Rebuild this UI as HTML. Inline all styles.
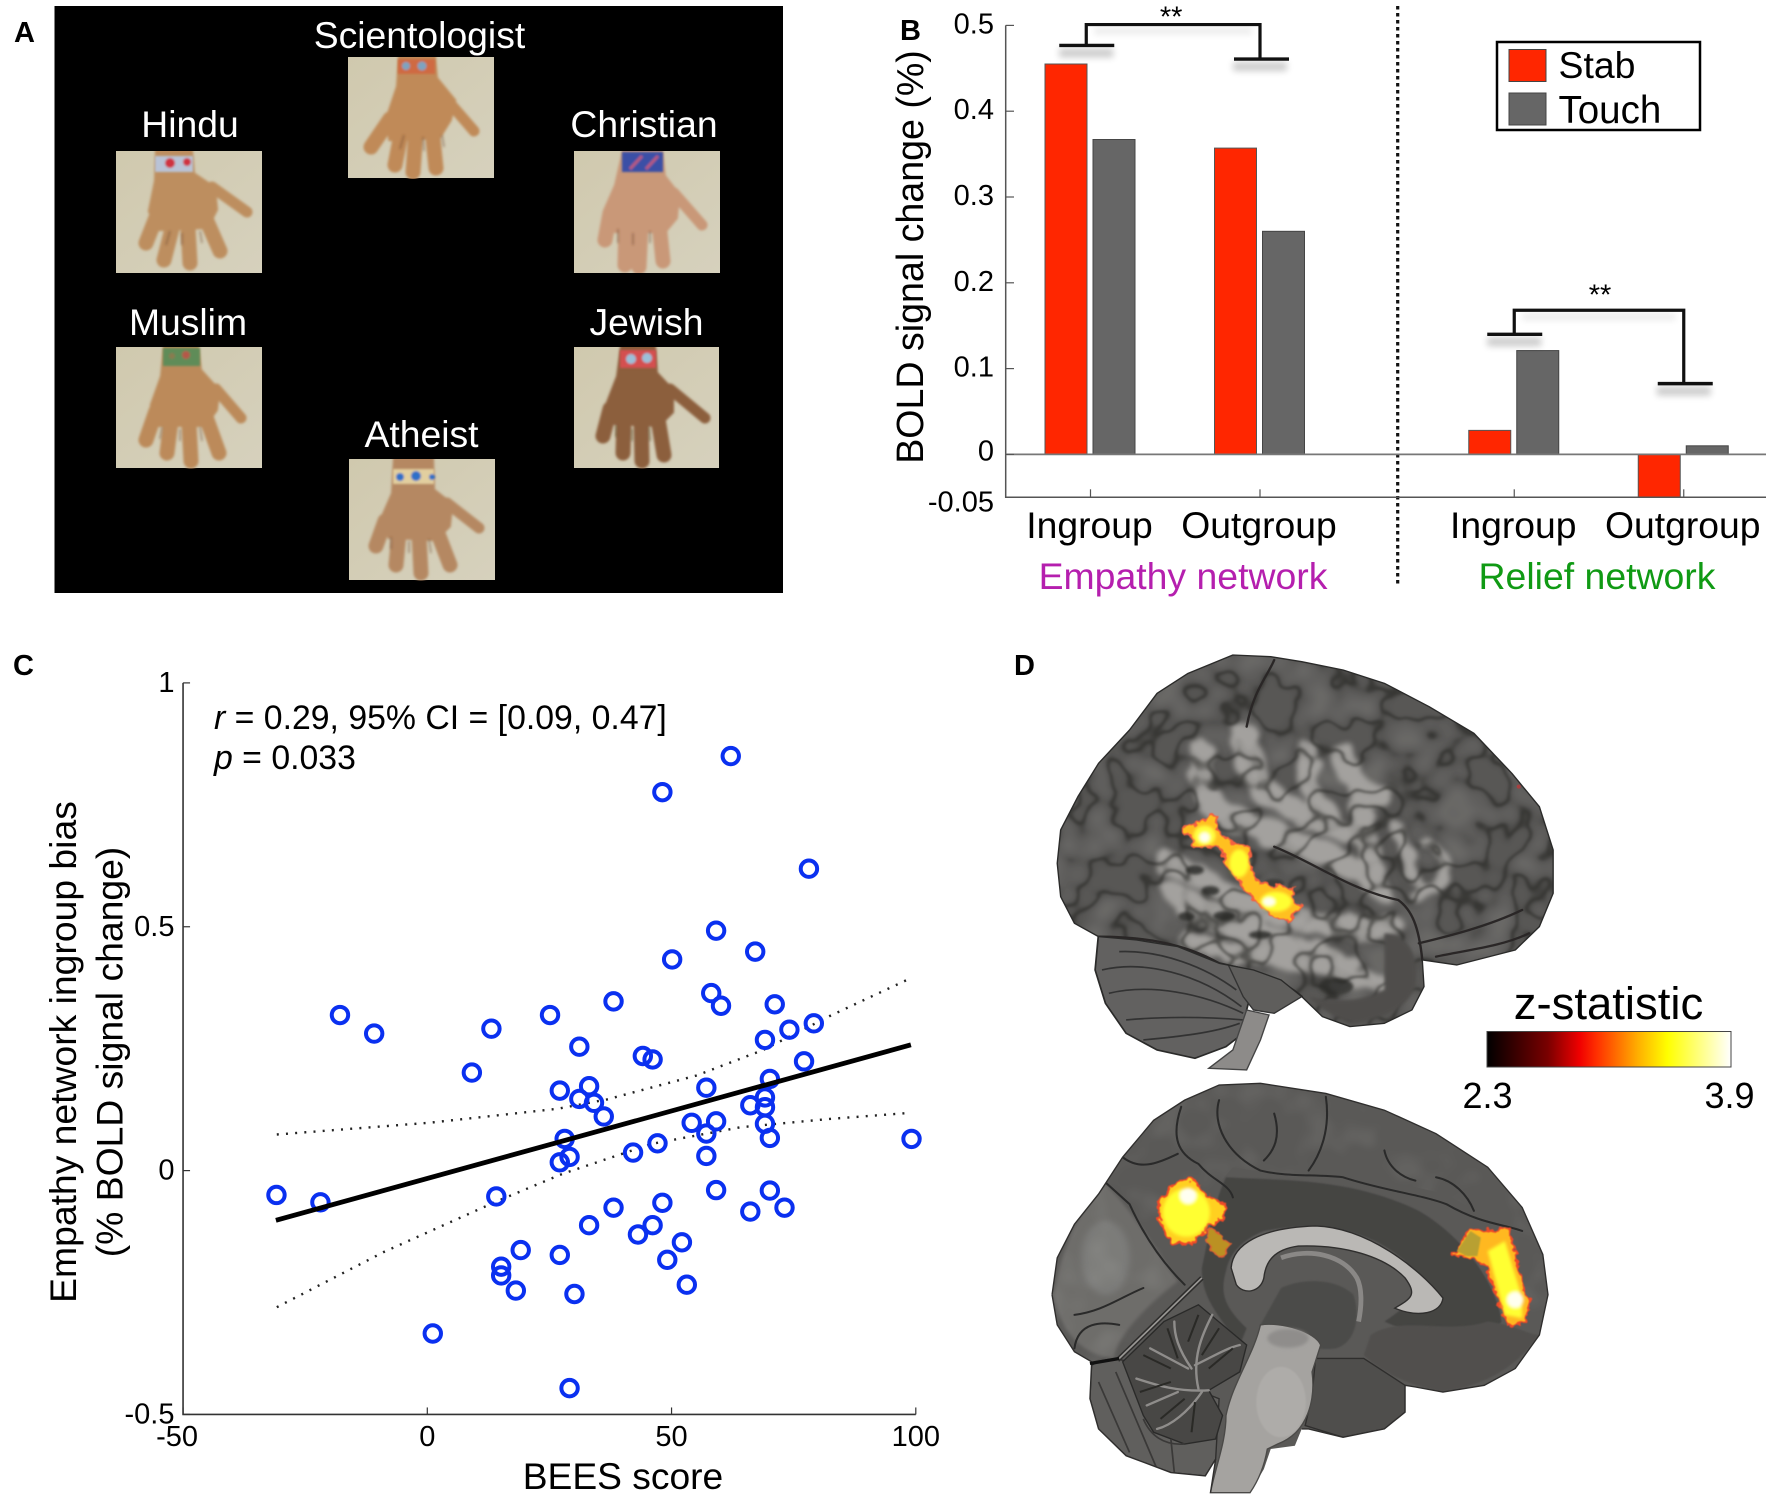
<!DOCTYPE html>
<html lang="en">
<head>
<meta charset="utf-8">
<title>Ingroup bias figure</title>
<style>
html,body{margin:0;padding:0;background:#fff;}
svg{display:block;font-family:"Liberation Sans",Arial,sans-serif;}
</style>
</head>
<body>
<svg id="fig" xmlns="http://www.w3.org/2000/svg" width="1772" height="1496" viewBox="0 0 1772 1496">
<defs>
  <filter id="b1" x="-20%" y="-20%" width="140%" height="140%"><feGaussianBlur stdDeviation="1"/></filter>
  <filter id="bh" x="-20%" y="-20%" width="140%" height="140%"><feGaussianBlur stdDeviation="1.4"/></filter>
  <filter id="b2" x="-20%" y="-20%" width="140%" height="140%"><feGaussianBlur stdDeviation="2.5"/></filter>
  <filter id="b3" x="-20%" y="-20%" width="140%" height="140%"><feGaussianBlur stdDeviation="5"/></filter>
  <filter id="b4" x="-30%" y="-30%" width="160%" height="160%"><feGaussianBlur stdDeviation="9"/></filter>
  <filter id="shadow" x="-30%" y="-200%" width="160%" height="500%"><feGaussianBlur stdDeviation="3.5"/></filter>
  <filter id="wob" x="-10%" y="-10%" width="120%" height="120%" color-interpolation-filters="sRGB">
    <feTurbulence type="fractalNoise" baseFrequency=".014" numOctaves="2" seed="3" result="n"/>
    <feDisplacementMap in="SourceGraphic" in2="n" scale="55" xChannelSelector="R" yChannelSelector="G"/>
    <feGaussianBlur stdDeviation="8"/>
  </filter>
  <filter id="wobA" x="-20%" y="-20%" width="140%" height="140%" color-interpolation-filters="sRGB">
    <feTurbulence type="fractalNoise" baseFrequency=".045" numOctaves="2" seed="5" result="n"/>
    <feDisplacementMap in="SourceGraphic" in2="n" scale="30" xChannelSelector="R" yChannelSelector="G"/>
    <feGaussianBlur stdDeviation="1.5"/>
  </filter>
  <filter id="sulci" x="0" y="0" width="1" height="1" color-interpolation-filters="sRGB">
    <feTurbulence type="fractalNoise" baseFrequency=".0095" numOctaves="2" seed="11"/>
    <feColorMatrix type="matrix" values="0 0 0 0 .14  0 0 0 0 .14  0 0 0 0 .13  1 0 0 0 0"/>
    <feComponentTransfer><feFuncA type="table" tableValues="0 0 0 0 0 0 0 0 .1 .65 .1 0 0 0 0 0 0 0 0 0 0"/></feComponentTransfer>
    <feGaussianBlur stdDeviation="3.5"/>
  </filter>
  <filter id="gyriLight" x="0" y="0" width="1" height="1" color-interpolation-filters="sRGB">
    <feTurbulence type="fractalNoise" baseFrequency=".0095" numOctaves="2" seed="11"/>
    <feColorMatrix type="matrix" values="0 0 0 0 1  0 0 0 0 1  0 0 0 0 .98  1 0 0 0 0"/>
    <feComponentTransfer><feFuncA type="table" tableValues="0 0 0 0 .01 .06 .11 .1 .06"/></feComponentTransfer>
    <feGaussianBlur stdDeviation="8"/>
  </filter>
  <linearGradient id="bgHand" x1="0" y1="0" x2="1" y2="1"><stop offset="0" stop-color="#d0c9ae"/><stop offset="1" stop-color="#d6d1bd"/></linearGradient>
  <linearGradient id="cbar" x1="0" y1="0" x2="1" y2="0">
    <stop offset="0" stop-color="#000"/><stop offset=".25" stop-color="#7a0000"/><stop offset=".38" stop-color="#f00000"/><stop offset=".45" stop-color="#ff3000"/><stop offset=".62" stop-color="#ffb000"/><stop offset=".74" stop-color="#ffff00"/><stop offset="1" stop-color="#ffffff"/>
  </linearGradient>
  <clipPath id="handClip"><rect x="0" y="0" width="146" height="122"/></clipPath>
  <clipPath id="brainClip1"><path d="M50,640 60,540 110,440 170,340 260,240 340,130 430,70 560,15 670,20 760,35 880,60 1000,100 1130,170 1260,250 1370,370 1450,470 1490,600 1490,730 1450,830 1380,900 1210,945 1110,930 1115,1010 1080,1080 1000,1120 900,1130 820,1100 760,1040 700,990 620,960 520,940 400,890 280,870 170,860 100,820 60,740Z"/></clipPath>
  <clipPath id="brainClip2"><path d="M35,640 50,530 100,430 170,340 240,230 330,120 420,60 520,15 640,10 830,40 1000,90 1150,160 1300,260 1400,380 1460,520 1475,640 1450,760 1380,860 1290,910 1170,930 1090,915 1060,910 1060,990 1000,1040 880,1065 780,1040 760,1040 740,1090 670,1100 650,1160 610,1230 495,1230 510,1130 480,1180 380,1170 250,1120 170,1040 145,950 150,840 100,810 50,730Z"/></clipPath>
  <clipPath id="cortexRing"><path d="M35,640 50,530 100,430 170,340 240,230 330,120 420,60 520,15 640,10 830,40 1000,90 1150,160 1300,260 1400,380 1460,520 1475,640 1450,760 1400,720 1350,440 1180,340 960,290 740,290 560,260 500,330 400,560 250,800 150,840 100,810 50,730Z"/></clipPath>
</defs>

<!-- PANEL A -->
<g>
  <text x="14" y="42" font-size="29" font-weight="bold">A</text>
  <rect x="54.5" y="6" width="728.5" height="587" fill="#000"/>
  <g fill="#fff" font-size="37.3" text-anchor="middle">
    <text x="419.5" y="48">Scientologist</text>
    <text x="190" y="137">Hindu</text>
    <text x="644" y="137">Christian</text>
    <text x="188" y="335">Muslim</text>
    <text x="646.5" y="335">Jewish</text>
    <text x="421.5" y="447">Atheist</text>
  </g>

  <g transform="translate(348,57)" clip-path="url(#handClip)">
    <rect width="146" height="121" fill="url(#bgHand)"/>
    <g filter="url(#bh)" stroke="#c08a58" fill="none" stroke-linecap="round" stroke-width="15">
      <path d="M42 62L23 90"/><path d="M54 72L47 108"/><path d="M68 74L65 115"/><path d="M84 72L88 111"/><path d="M100 44L126 74" stroke-width="11"/>
      <path fill="#c08a58" stroke-width="8" d="M54 0L84 0L86 22L104 44L100 62L90 78L44 80L42 60L52 30Z"/>
    </g>
    <g filter="url(#bh)" fill="none" stroke="#6a3e20" stroke-opacity=".4" stroke-width="2"><path d="M52 92L56 78"/><path d="M76 94L75 80"/><path d="M96 90L94 78"/></g>
    <g filter="url(#b1)"><rect x="50" y="2" width="37" height="15" fill="#cf6a42"/><circle cx="58" cy="9" r="4" fill="#7ea3c0"/><circle cx="74" cy="9" r="4.5" fill="#7ea3c0"/></g>
  </g>

  <g transform="translate(116,151)" clip-path="url(#handClip)">
    <rect width="146" height="122" fill="url(#bgHand)"/>
    <g filter="url(#bh)" stroke="#bd8e5f" fill="none" stroke-linecap="round" stroke-width="15">
      <path d="M41 64L30 92"/><path d="M57 74L48 109"/><path d="M72 76L74 112"/><path d="M90 68L104 100"/><path d="M96 36L131 61" stroke-width="11"/>
      <path fill="#bd8e5f" stroke-width="8" d="M43 0L73 0L75 24L96 38L98 58L90 74L44 76L36 60L42 30Z"/>
    </g>
    <g filter="url(#bh)" fill="none" stroke="#6a3e20" stroke-opacity=".4" stroke-width="2"><path d="M50 94L54 80"/><path d="M66 94L66 82"/><path d="M86 92L84 80"/></g>
    <g filter="url(#b1)"><rect x="39" y="5" width="38" height="16" fill="#b9c3d6"/><circle cx="54" cy="12" r="5" fill="#cf3040"/><circle cx="71" cy="11" r="4" fill="#cf3040"/></g>
  </g>

  <g transform="translate(574,151)" clip-path="url(#handClip)">
    <rect width="147" height="122" fill="url(#bgHand)"/>
    <g filter="url(#bh)" stroke="#c99878" fill="none" stroke-linecap="round" stroke-width="15">
      <path d="M36 62L31 89"/><path d="M52 72L51 114"/><path d="M67 74L65 116"/><path d="M85 72L89 110"/><path d="M100 42L128 74" stroke-width="11"/>
      <path fill="#c99878" stroke-width="8" d="M52 0L85 0L88 26L102 44L100 66L90 78L42 78L34 58L44 35Z"/>
    </g>
    <g filter="url(#bh)" fill="none" stroke="#6a3e20" stroke-opacity=".4" stroke-width="2"><path d="M44 92L44 78"/><path d="M59 94L59 82"/><path d="M76 92L76 80"/></g>
    <g filter="url(#b1)"><rect x="48" y="1" width="41" height="20" fill="#3a50a6"/><path d="M56 18L68 5M72 18L84 5" stroke="#b85a80" stroke-width="3"/></g>
  </g>

  <g transform="translate(116,347)" clip-path="url(#handClip)">
    <rect width="146" height="121" fill="url(#bgHand)"/>
    <g filter="url(#bh)" stroke="#bc8a5a" fill="none" stroke-linecap="round" stroke-width="15">
      <path d="M40 64L30 93"/><path d="M55 74L51 106"/><path d="M73 76L75 114"/><path d="M90 70L103 106"/><path d="M100 42L125 71" stroke-width="11"/>
      <path fill="#bc8a5a" stroke-width="8" d="M51 0L79 0L82 24L100 44L98 62L88 76L44 76L38 58L48 30Z"/>
    </g>
    <g filter="url(#bh)" fill="none" stroke="#6a3e20" stroke-opacity=".4" stroke-width="2"><path d="M44 92L46 80"/><path d="M64 94L64 82"/><path d="M86 94L84 80"/></g>
    <g filter="url(#b1)"><rect x="47" y="1" width="37" height="18" fill="#5f8c58"/><circle cx="70" cy="8" r="4" fill="#b5584a"/><circle cx="56" cy="9" r="3" fill="#8a7a50"/></g>
  </g>

  <g transform="translate(574,347)" clip-path="url(#handClip)">
    <rect width="145" height="121" fill="url(#bgHand)"/>
    <g filter="url(#bh)" stroke="#8c5f3c" fill="none" stroke-linecap="round" stroke-width="15">
      <path d="M36 62L29 89"/><path d="M50 72L49 106"/><path d="M67 74L68 114"/><path d="M84 72L90 108"/><path d="M96 42L131 71" stroke-width="11"/>
      <path fill="#8c5f3c" stroke-width="8" d="M50 0L78 0L80 27L96 44L96 64L84 76L40 74L36 56L46 30Z"/>
    </g>
    <g filter="url(#bh)" fill="none" stroke="#3a2010" stroke-opacity=".4" stroke-width="2"><path d="M42 90L42 78"/><path d="M58 94L58 82"/><path d="M76 94L75 80"/></g>
    <g filter="url(#b1)"><rect x="46" y="3" width="36" height="18" fill="#d44f50"/><circle cx="57" cy="12" r="5" fill="#9cc0d8"/><circle cx="73" cy="11" r="5" fill="#9cc0d8"/></g>
  </g>

  <g transform="translate(349,459)" clip-path="url(#handClip)">
    <rect width="146" height="121" fill="url(#bgHand)"/>
    <g filter="url(#bh)" stroke="#b58862" fill="none" stroke-linecap="round" stroke-width="15">
      <path d="M36 62L27 87"/><path d="M50 74L47 106"/><path d="M70 76L72 114"/><path d="M88 72L101 106"/><path d="M98 44L130 69" stroke-width="11"/>
      <path fill="#b58862" stroke-width="8" d="M48 0L81 0L82 32L100 46L98 66L86 78L42 76L36 58L46 35Z"/>
    </g>
    <g filter="url(#bh)" fill="none" stroke="#6a3e20" stroke-opacity=".4" stroke-width="2"><path d="M42 90L42 78"/><path d="M60 94L60 82"/><path d="M82 94L80 80"/></g>
    <g filter="url(#b1)"><rect x="44" y="10" width="41" height="15" fill="#e2cf9f"/><circle cx="51" cy="18" r="4" fill="#2f6fc8"/><circle cx="67" cy="17" r="5" fill="#2f6fc8"/><circle cx="83" cy="18" r="3" fill="#2f6fc8"/></g>
  </g>
</g>

<!-- PANEL B (drawn by script) -->
<g id="panelB">
  <text x="900" y="40" font-size="29" font-weight="bold">B</text>
  <text transform="translate(923,257) rotate(-90)" text-anchor="middle" font-size="37.6">BOLD signal change (%)</text>
  <text x="1183" y="589" text-anchor="middle" font-size="37.4" fill="#b51fae">Empathy network</text>
  <text x="1597" y="589" text-anchor="middle" font-size="37.4" fill="#109a14">Relief network</text>
  <line x1="1397.7" y1="6" x2="1397.7" y2="587" stroke="#111" stroke-width="3.2" stroke-dasharray="3.5 3.5"/>
  <g>
    <rect x="1497" y="42" width="203" height="88" fill="#fff" stroke="#000" stroke-width="2.5"/>
    <rect x="1509" y="49.5" width="37" height="32" fill="#ff2600" stroke="#444" stroke-width="1"/>
    <rect x="1509" y="93" width="37" height="32" fill="#666" stroke="#444" stroke-width="1"/>
    <text x="1558.5" y="78" font-size="37.4">Stab</text>
    <text x="1558.5" y="123" font-size="38.5">Touch</text>
  </g>
</g>

<!-- PANEL C (drawn by script) -->
<g id="panelC">
  <text x="13" y="675" font-size="29" font-weight="bold">C</text>
  <text transform="translate(76,1052) rotate(-90)" text-anchor="middle" font-size="37.3">Empathy network ingroup bias</text>
  <text transform="translate(122.5,1052) rotate(-90)" text-anchor="middle" font-size="37.3">(% BOLD signal change)</text>
  <text x="623" y="1489" text-anchor="middle" font-size="37.2">BEES score</text>
  <text x="214" y="729" font-size="33.8"><tspan font-style="italic">r</tspan> = 0.29, 95% CI = [0.09, 0.47]</text>
  <text x="214" y="769" font-size="33.8"><tspan font-style="italic">p</tspan> = 0.033</text>
</g>

<!-- PANEL D -->
<g>
  <text x="1014" y="675" font-size="29" font-weight="bold">D</text>

  <g transform="translate(1040,650) scale(.3444,.3333)">
    <path d="M170,850 280,850 400,870 520,920 640,950 620,1000 600,1080 590,1150 540,1190 450,1225 340,1200 250,1150 190,1060 160,960Z" fill="#626160" stroke="#2a2a29" stroke-width="5"/>
    <g fill="none" stroke="#333" stroke-width="5" filter="url(#b1)">
      <path d="M180,960C300,930 460,970 585,1070"/><path d="M200,1030C320,1000 470,1030 590,1090"/><path d="M250,1110C350,1100 480,1100 590,1110"/><path d="M230,905C350,900 480,950 570,1020"/><path d="M300,1170C400,1160 500,1150 580,1120"/>
    </g>
    <path d="M540,930 660,950 760,1040 680,1090 620,1080 590,1040Z" fill="#5f5e5c" stroke="#333" stroke-width="4"/>
    <path d="M600,1080 665,1095 640,1170 600,1260 490,1255 560,1200Z" fill="#8d8b89" stroke="#444" stroke-width="4"/>
    <g clip-path="url(#brainClip1)">
      <rect x="0" y="0" width="1568" height="1260" fill="#585755"/>
      <rect x="0" y="0" width="1568" height="1260" filter="url(#gyriLight)"/>
      <g fill="none" stroke="#a3a19e" stroke-linecap="round" filter="url(#wob)">
        <path d="M470,300C450,370 490,440 510,480" stroke-width="65"/>
        <path d="M590,260C590,350 640,400 670,440" stroke-width="85"/>
        <path d="M780,300C760,400 800,470 860,520" stroke-width="65"/>
        <path d="M880,320C900,400 950,440 975,440" stroke-width="70"/>
        <path d="M500,480C600,510 660,560 800,600C880,640 950,660 990,720" stroke-width="70"/>
        <path d="M660,430C720,480 800,520 900,540" stroke-width="70"/>
        <path d="M930,460C950,560 960,650 990,720" stroke-width="60"/>
        <path d="M1040,520C1060,640 1090,720 1150,720" stroke-width="35"/>
        <path d="M1110,580C1200,610 1210,680 1100,750" stroke-width="35"/>
        <path d="M370,640C430,650 500,720 620,760C760,830 880,830 1010,830" stroke-width="70"/>
        <path d="M430,880C560,900 700,930 800,950C880,980 950,1010 1000,1000" stroke-width="60"/>
        <path d="M420,780C520,820 700,860 900,950" stroke-width="70"/>
        <path d="M380,720C440,760 520,790 620,830" stroke-width="60"/>
      </g>
      <g fill="#3d3c3b" filter="url(#b3)">
        <ellipse cx="450" cy="660" rx="26" ry="14"/><ellipse cx="495" cy="722" rx="26" ry="14"/><ellipse cx="425" cy="800" rx="24" ry="14"/><ellipse cx="535" cy="798" rx="32" ry="14"/><ellipse cx="640" cy="855" rx="34" ry="12"/><ellipse cx="680" cy="700" rx="30" ry="14"/><ellipse cx="860" cy="1010" rx="50" ry="26"/>
      </g>
      <rect x="0" y="0" width="1568" height="1260" filter="url(#sulci)"/>
      <g fill="none" stroke="#292827" stroke-width="7" stroke-linecap="round" filter="url(#b1)">
        <path d="M680,590C800,640 900,720 1040,750C1080,780 1100,830 1110,930"/>
        <path d="M600,230C620,120 660,80 680,30"/>
        <path d="M170,860C300,860 420,880 520,940C600,960 680,970 760,1040"/>
        <path d="M1100,880C1180,860 1300,830 1400,780"/><path d="M1150,920C1240,900 1340,890 1420,850"/>
      </g>
      <path d="M1000,850C1080,860 1100,920 1090,1010C1060,1080 1000,1100 920,1120C860,1110 820,1080 780,1040C860,1060 950,1050 1000,1020Z" fill="#4f4e4c" filter="url(#b3)"/>
    </g>
    <path d="M50,640 60,540 110,440 170,340 260,240 340,130 430,70 560,15 670,20 760,35 880,60 1000,100 1130,170 1260,250 1370,370 1450,470 1490,600 1490,730 1450,830 1380,900 1210,945 1110,930 1115,1010 1080,1080 1000,1120 900,1130 820,1100 760,1040 700,990 620,960 520,940 400,890 280,870 170,860 100,820 60,740Z" fill="none" stroke="#2a2a29" stroke-width="4" stroke-linejoin="round"/>
    <path d="M415,530 450,525 490,495 510,500 520,550 545,575 610,595 610,640 630,700 735,715 740,760 765,768 720,810 690,810 640,770 590,710 540,640 525,590 450,595 440,560 415,550Z" fill="#ffc020" stroke="#f56040" stroke-width="6" stroke-linejoin="round" filter="url(#wobA)"/>
    <g filter="url(#b3)">
      <ellipse cx="478" cy="557" rx="32" ry="30" fill="#ffff40"/><ellipse cx="578" cy="640" rx="28" ry="42" fill="#ffff30"/><ellipse cx="685" cy="755" rx="46" ry="30" fill="#ffff30"/>
      <ellipse cx="478" cy="562" rx="15" ry="15" fill="#fffff0"/><ellipse cx="665" cy="755" rx="18" ry="13" fill="#fffff0"/>
    </g>
    <circle cx="1390" cy="410" r="6" fill="#a84040"/>
  </g>

  <g transform="translate(1040,1080) scale(.3444,.3355)">
    <g clip-path="url(#brainClip2)">
      <rect width="1568" height="1240" fill="#5a5957"/>
      <path d="M40,640C60,500 120,380 190,310C260,380 320,480 400,600C300,680 220,770 215,830C130,820 60,760 40,640Z" fill="#6e6d6b" filter="url(#b3)"/>
      <ellipse cx="190" cy="530" rx="70" ry="110" fill="#7c7b79" filter="url(#b4)"/>
      <g clip-path="url(#cortexRing)"><rect width="1568" height="1240" filter="url(#gyriLight)" opacity=".6"/></g>
      <path d="M540,290C700,300 900,290 1100,390C1250,480 1330,630 1340,720C1300,790 1150,790 1000,720C1100,650 1120,620 1060,540C950,440 800,420 650,450C580,480 550,520 540,570C520,640 540,680 600,740L580,790C500,680 470,640 470,560C490,470 500,380 540,290Z" fill="#454442" filter="url(#b2)"/>
      <path d="M700,620C760,590 860,590 910,640C930,700 920,780 860,800C800,810 690,780 640,730Z" fill="#4c4b49" filter="url(#b2)"/>
      <path d="M960,760C1050,700 1180,760 1300,720C1380,730 1420,760 1450,760C1380,860 1290,910 1170,930C1090,915 1000,880 940,820Z" fill="#514f4d" filter="url(#b2)"/>
      <path d="M800,830 940,830 1060,910 1060,990 1000,1040 880,1065 770,1030 790,940Z" fill="#4f4e4c" stroke="#2f2e2d" stroke-width="4"/>
      <path d="M150,850C200,820 250,830 300,860L520,950 510,1130 480,1180 380,1170 250,1120 170,1040 145,950Z" fill="#605f5d" stroke="#2f2e2d" stroke-width="4"/>
      <path d="M240,840 360,720 460,670 600,790 580,870 490,925 530,1000 510,1070 420,1085 330,1050 300,1000 270,920Z" fill="#484745" stroke="#2a2a29" stroke-width="4"/>
      <g fill="none" stroke="#8f8d8b" stroke-width="7" stroke-linecap="round" filter="url(#b1)">
        <path d="M490,925C400,930 340,910 280,890"/><path d="M460,920C440,830 470,760 500,700"/><path d="M440,860C400,800 390,760 390,720"/><path d="M450,850C510,820 540,800 580,790"/><path d="M470,930C430,990 380,1030 340,1040"/><path d="M430,860L320,800"/><path d="M400,930L310,970"/>
      </g>
      <g fill="none" stroke="#2a2928" stroke-width="6" filter="url(#b1)">
        <path d="M460,700L430,780M520,740L470,820M370,740L400,830M560,800L490,860M300,820L380,860M290,930L380,900M350,1010L420,950M440,1050L450,960"/>
      </g>
      <g fill="none" stroke="#3a3938" stroke-width="5">
        <path d="M170,900L260,1110"/><path d="M220,870L340,1160"/><path d="M380,1070L390,1170"/><path d="M300,1010C320,1060 360,1090 420,1085"/>
      </g>
      <g fill="none" stroke="#2a2a29" stroke-width="6" stroke-linecap="round" filter="url(#b1)">
        <path d="M190,305L260,370C300,460 350,540 420,610"/>
        <path d="M520,60C500,130 540,220 640,270C720,290 800,280 880,290C1000,330 1100,340 1180,370C1280,430 1350,430 1400,450"/>
        <path d="M830,50C840,120 830,200 780,270"/><path d="M410,80C380,170 400,220 460,250C500,300 550,310 560,350"/>
        <path d="M240,230C290,270 340,250 400,220"/><path d="M100,700C180,690 230,650 300,620"/><path d="M100,800C110,720 180,720 230,730"/>
        <path d="M1000,210C1010,260 1050,290 1090,300"/><path d="M1150,290C1200,300 1240,340 1260,390"/><path d="M680,100C700,170 680,210 650,240"/>
      </g>
      <path d="M225,835L470,590" stroke="#2d2c2b" stroke-width="14" fill="none"/>
      <path d="M225,835L470,590" stroke="#9a9895" stroke-width="5" fill="none"/>
    </g>
    <path d="M555,560C560,490 640,440 800,435C950,440 1100,560 1170,650C1165,695 1100,710 1030,680C1080,650 1095,640 1060,590C1000,525 880,490 750,495C680,505 655,540 650,590C640,635 590,640 570,610Z" fill="#bab8b5" stroke="#2f2e2d" stroke-width="4"/>
    <path d="M700,530C780,500 880,520 920,590C935,620 935,670 925,720" fill="none" stroke="#8a8886" stroke-width="14" filter="url(#b1)"/>
    <path d="M640,730C700,720 800,750 815,790L790,870C800,950 780,1050 690,1085L660,1100C650,1160 630,1200 610,1230L495,1230C510,1150 540,1080 540,1000C560,900 620,820 640,730Z" fill="#a5a3a0" stroke="#4a4947" stroke-width="4"/>
    <ellipse cx="700" cy="960" rx="72" ry="105" fill="#aeaca9" filter="url(#b2)"/>
    <ellipse cx="720" cy="770" rx="60" ry="28" fill="#8f8d8b" filter="url(#b3)"/>
    <path d="M35,640 50,530 100,430 170,340 240,230 330,120 420,60 520,15 640,10 830,40 1000,90 1150,160 1300,260 1400,380 1460,520 1475,640 1450,760 1380,860 1290,910 1170,930 1090,915 1060,910 1060,990 1000,1040 880,1065 780,1040 760,1040" fill="none" stroke="#2f2e2d" stroke-width="4"/>
    <path d="M495,1230 510,1130 480,1180 380,1170 250,1120 170,1040 145,950 150,840 100,810 50,730 35,640" fill="none" stroke="#2f2e2d" stroke-width="4"/>
    <path d="M145,845 230,830" stroke="#111" stroke-width="10"/>
    <!-- activations -->
    <path d="M495,440 555,490 530,525 500,515 480,450Z" fill="#c89a20" stroke="#f06030" stroke-width="5" filter="url(#wobA)" opacity=".9"/>
    <path d="M340,360 400,300 450,295 480,340 540,370 530,420 490,430 440,490 380,485 350,420Z" fill="#ffd020" stroke="#f04a28" stroke-width="7" stroke-linejoin="round" filter="url(#wobA)"/>
    <g filter="url(#b3)"><ellipse cx="425" cy="395" rx="68" ry="72" fill="#ffff30"/><circle cx="430" cy="345" r="24" fill="#fffff0"/></g>
    <path d="M1200,520 1250,445 1300,450 1365,440 1372,490 1420,670 1412,725 1360,732 1330,660 1290,545 1240,530Z" fill="#ffb820" stroke="#f04a28" stroke-width="6" stroke-linejoin="round" filter="url(#wobA)"/>
    <path d="M1210,510 1250,450 1280,470 1270,525 1240,525Z" fill="#b8a030" filter="url(#b2)"/>
    <g filter="url(#b3)"><path d="M1300,510 1350,480 1400,650 1400,710 1350,700Z" fill="#ffff30"/><circle cx="1380" cy="655" r="24" fill="#fffff0"/></g>
  </g>

  <g>
    <text x="1608.5" y="1019" text-anchor="middle" font-size="45.5">z-statistic</text>
    <rect x="1487" y="1031.5" width="244" height="35.5" fill="url(#cbar)" stroke="#444" stroke-width="1"/>
    <text x="1487.5" y="1108" text-anchor="middle" font-size="36">2.3</text>
    <text x="1729.5" y="1108" text-anchor="middle" font-size="36">3.9</text>
  </g>
</g>

<script>
// ---------- Panel B data ----------
const categoryLabels = ['Ingroup','Outgroup','Ingroup','Outgroup'];
const categoryPositions = [1,2,3.5,4.5];
const stabValues = [0.455,0.357,0.028,-0.05];
const touchValues = [0.367,0.26,0.121,0.01];
const bTickValues = [0.5,0.4,0.3,0.2,0.1,0,-0.05];
const bTickLabels = ['0.5','0.4','0.3','0.2','0.1','0','-0.05'];
const bracketCategoryA = [0.975,3.5];
const bracketCategoryB = [2,4.5];
const bracketTops = [0.501,0.168];
const bracketCapsA = [0.4766,0.14];
const bracketCapsB = [0.4608,0.0825];
const bracketStarCategories = [1.476,4.006];
const bracketStarLevels = [0.4987,0.175];

// ---------- Panel C data ----------
const beesScores = [-31,-22,-18,-11,1,9,13,14,15,15,18,19,25,27,27,27,28,29,29,30,31,31,33,33,34,36,38,38,42,43,44,46,46,47,48,48,49,50,52,53,54,57,57,57,58,59,59,59,60,62,66,66,67,69,69,69,69,70,70,70,71,73,74,77,78,79,99];
const ingroupBias = [-0.05,-0.065,0.319,0.281,-0.334,0.201,0.291,-0.053,-0.197,-0.215,-0.246,-0.163,0.319,0.164,-0.173,0.017,0.065,0.028,-0.446,-0.253,0.254,0.147,0.173,-0.112,0.139,0.111,0.347,-0.076,0.037,-0.131,0.235,0.228,-0.112,0.056,0.776,-0.066,-0.183,0.433,-0.147,-0.234,0.098,0.17,0.076,0.03,0.364,0.492,0.101,-0.04,0.338,0.85,0.134,-0.084,0.449,0.268,0.15,0.13,0.096,0.188,0.067,-0.041,0.341,-0.076,0.289,0.224,0.619,0.302,0.065];
const fitXs = [-31,99];
const fitYs = [-0.102,0.258];
const upperCiXs = [-30.8,0.3,26.8,36.8,55.1,68.7,82.4,98.2];
const upperCiYs = [0.074,0.098,0.127,0.146,0.195,0.247,0.317,0.391];
const lowerCiXs = [-30.8,-8.9,14,27.7,46,64.2,82.4,98.2];
const lowerCiYs = [-0.28,-0.167,-0.064,-0.0065,0.055,0.089,0.106,0.118];
const cXTicks = [-50,0,50,100];
const cXTickLabels = ['-50','0','50','100'];
const cYTicks = [1,0.5,0,-0.5];
const cYTickLabels = ['1','0.5','0','-0.5'];

const NS = 'http://www.w3.org/2000/svg';
function mk(parent, tag, attrs, text){
  const n = document.createElementNS(NS, tag);
  for (const k in attrs) n.setAttribute(k, attrs[k]);
  if (text !== undefined) n.textContent = text;
  parent.appendChild(n);
  return n;
}

// ----- axis functions panel B -----
const bx = c => 1090.5 + (c - 1) * 169.5;
const by = v => 454.4 - v * 858;
const pB = document.getElementById('panelB');
const BAR_W = 42, BAR_OFF = 24;

categoryPositions.forEach((c, i) => {
  const s = stabValues[i], t = touchValues[i];
  const r1 = mk(pB, 'rect', {x: bx(c) - BAR_OFF - BAR_W/2 - 0.5, y: Math.min(by(s), by(0)), width: BAR_W, height: Math.abs(by(s) - by(0)), fill: '#ff2600', stroke: '#555', 'stroke-width': 1});
  
  
  const r2 = mk(pB, 'rect', {x: bx(c) + BAR_OFF - BAR_W/2 - 0.5, y: Math.min(by(t), by(0)), width: BAR_W, height: Math.abs(by(t) - by(0)), fill: '#666', stroke: '#444', 'stroke-width': 1});
  
  
  const tick = mk(pB, 'line', {x1: bx(c), x2: bx(c), y1: by(-0.05), y2: by(-0.05) - 8, stroke: '#555', 'stroke-width': 1.2});
  
  
  const lab = mk(pB, 'text', {x: bx(c) - 1, y: 538, 'text-anchor': 'middle', 'font-size': 37.3}, categoryLabels[i]);
  
  
});

const axB = mk(pB, 'path', {d: 'M1005.7 ' + by(0.5) + 'V' + by(-0.05) + 'H1766', fill: 'none'});
axB.setAttribute('stroke', '#555');
axB.setAttribute('stroke-width', '1.5');


const zeroLine = mk(pB, 'line', {x1: 1005.7, x2: 1766, y1: by(0), y2: by(0), stroke: '#777', 'stroke-width': 1.8});



bTickValues.forEach((v, i) => {
  const tk = mk(pB, 'line', {x1: 1005.7, x2: 1014, y1: by(v), y2: by(v), stroke: '#555', 'stroke-width': 1.2});
  
  
  const lb = mk(pB, 'text', {x: 994, y: by(v) + (v < 0 ? 14 : v === 0 ? 6 : 8), 'text-anchor': 'end', 'font-size': 29}, bTickLabels[i]);
  
  
});

bracketTops.forEach((top, i) => {
  const xa = bx(bracketCategoryA[i]), xb = bx(bracketCategoryB[i]);
  const ya = by(bracketCapsA[i]), yb = by(bracketCapsB[i]), yt = by(top);
  [[xa, ya], [xb, yb]].forEach(p => {
    const sh = mk(pB, 'rect', {x: p[0] - 27, y: p[1] + 3, width: 54, height: 9, fill: '#000', opacity: .2, filter: 'url(#shadow)'});
    
    
  });
  const shTop = mk(pB, 'rect', {x: xa + 8, y: yt + 3, width: xb - xa - 16, height: 7, fill: '#000', opacity: .08, filter: 'url(#shadow)'});
  
  
  const br = mk(pB, 'path', {d: 'M' + xa + ' ' + ya + 'V' + yt + 'H' + xb + 'V' + yb, fill: 'none', stroke: '#111', 'stroke-width': 3.2});
  
  
  const c1 = mk(pB, 'line', {x1: xa - 27, x2: xa + 28, y1: ya, y2: ya, stroke: '#111', 'stroke-width': 3.4});
  
  
  const c2 = mk(pB, 'line', {x1: xb - 26, x2: xb + 29, y1: yb, y2: yb, stroke: '#111', 'stroke-width': 3.4});
  
  
  const st = mk(pB, 'text', {x: bx(bracketStarCategories[i]), y: by(bracketStarLevels[i]), 'text-anchor': 'middle', 'font-size': 29}, '**');
  
  
});

// ----- axis functions panel C -----
const cx = v => 427.3 + v * 4.885;
const cy = v => 1170.6 - v * 487.7;
const pC = document.getElementById('panelC');

const axC = mk(pC, 'path', {d: 'M' + cx(-50) + ' ' + cy(1) + 'V' + cy(-0.5) + 'H' + cx(100), fill: 'none', stroke: '#333', 'stroke-width': 1.6});



cXTicks.forEach((v, i) => {
  const tk = mk(pC, 'line', {x1: cx(v), x2: cx(v), y1: cy(-0.5), y2: cy(-0.5) - 7, stroke: '#333', 'stroke-width': 1.2});
  
  
  const lb = mk(pC, 'text', {x: cx(v) - (v < 0 ? 6 : 0), y: 1446, 'text-anchor': 'middle', 'font-size': 29}, cXTickLabels[i]);
  
  
});
cYTicks.forEach((v, i) => {
  const tk = mk(pC, 'line', {x1: cx(-50), x2: cx(-50) + 7, y1: cy(v), y2: cy(v), stroke: '#333', 'stroke-width': 1.2});
  
  
  const lb = mk(pC, 'text', {x: 174.5, y: cy(v) + 9, 'text-anchor': 'end', 'font-size': 29}, cYTickLabels[i]);
  
  
});

function polyline(xs, ys){
  return xs.map((x, i) => (i ? 'L' : 'M') + cx(x).toFixed(1) + ' ' + cy(ys[i]).toFixed(1)).join('');
}
const ciU = mk(pC, 'path', {d: polyline(upperCiXs, upperCiYs), fill: 'none', stroke: '#222', 'stroke-width': 2.4, 'stroke-dasharray': '2 7.2'});


const ciL = mk(pC, 'path', {d: polyline(lowerCiXs, lowerCiYs), fill: 'none', stroke: '#222', 'stroke-width': 2.4, 'stroke-dasharray': '2 7.2'});



beesScores.forEach((x, i) => {
  const pt = mk(pC, 'circle', {cx: cx(x) + 0.6, cy: cy(ingroupBias[i]), r: 8.2, fill: 'none', stroke: '#0a30f0', 'stroke-width': 4});
  
  
});
const fit = mk(pC, 'path', {d: polyline(fitXs, fitYs), fill: 'none', stroke: '#000', 'stroke-width': 4.8});


</script>
</svg>
</body>
</html>
